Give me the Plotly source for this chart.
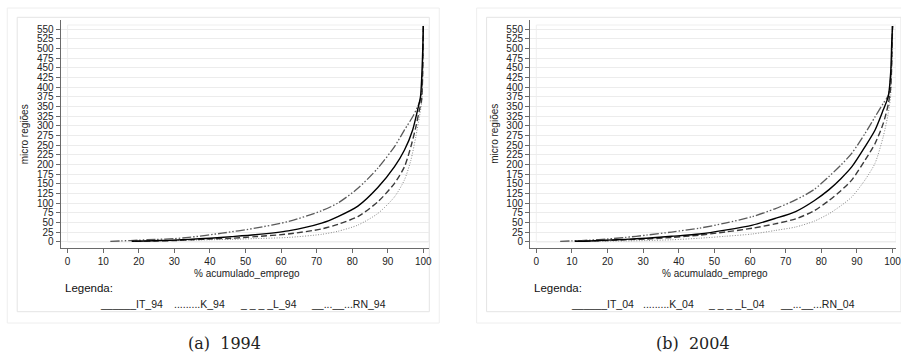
import plotly.graph_objects as go

W, H = 901, 360

# ---------------- data ----------------
# 1994
it94_x = [18, 22, 26, 30, 34, 40, 46, 52.7, 62, 71.4, 76, 81.6, 87.2, 91.9, 94.7, 97.0, 98.4, 99.2, 99.7, 100]
it94_y = [1, 2, 3, 4, 6, 9, 13, 18, 28, 48, 65, 92, 140, 194, 237, 289, 341, 375, 460, 558]
k94_x = [20, 25, 30, 35, 40, 46, 52.7, 62, 71.4, 76, 81.6, 87.2, 91.9, 94.7, 96.5, 97.9, 98.9, 99.5, 99.8, 100]
k94_y = [1, 2, 3, 4, 5, 6, 8, 11, 19, 27, 43, 73, 116, 160, 211, 272, 323, 358, 420, 558]
l94_x = [19, 25, 30, 35, 40, 46, 52.7, 62, 71.4, 76, 81.6, 87.2, 91.9, 94.7, 96.5, 97.9, 98.9, 99.5, 99.8, 100]
l94_y = [1, 2, 3, 5, 7, 9, 13, 20, 33, 45, 65, 103, 151, 194, 246, 297, 341, 366, 430, 558]
rn94_x = [12, 15, 20, 25, 30, 34, 43.4, 52.7, 62, 71.4, 76, 81.6, 87.2, 91.9, 94.7, 97.0, 98.4, 99.3, 99.8, 100]
rn94_y = [1, 2, 4, 6, 8, 11, 22, 35, 52, 80, 100, 138, 190, 246, 289, 323, 349, 371, 450, 558]

# 2004
it04_x = [10.8, 15, 20, 25, 30.9, 38, 45.8, 53, 60.7, 67, 72.8, 78, 82.1, 85.5, 88.6, 92.3, 95.1, 97.4, 98.8, 99.5, 99.8, 100]
it04_y = [1, 2, 4, 6, 9, 14, 20, 30, 43, 60, 78, 106, 134, 163, 194, 246, 289, 341, 375, 440, 520, 558]
k04_x = [12, 18, 25, 30.9, 38, 45.8, 53, 60.7, 67, 72.8, 78, 82.1, 85.5, 88.6, 92.3, 95.1, 97.4, 98.8, 99.5, 100]
k04_y = [1, 1.5, 2, 3, 5, 9, 14, 20, 29, 38, 53, 72, 93, 116, 160, 203, 272, 332, 380, 558]
l04_x = [11, 15, 20, 25, 30.9, 38, 45.8, 53, 60.7, 67, 72.8, 78, 82.1, 85.5, 88.6, 92.3, 95.1, 97.4, 98.8, 99.5, 100]
l04_y = [1, 2, 3, 5, 7, 11, 17, 25, 35, 46, 59, 80, 106, 132, 160, 211, 254, 306, 355, 400, 558]
rn04_x = [6.7, 10, 15, 20, 25, 30.9, 38, 45.8, 53, 60.7, 67, 72.8, 78, 82.1, 85.5, 88.6, 92.3, 95.1, 97.4, 98.8, 99.6, 100]
rn04_y = [1, 2, 4, 7, 11, 17, 25, 35, 48, 65, 85, 108, 135, 168, 198, 229, 280, 323, 358, 378, 440, 558]

y_ticks = list(range(0, 551, 25))
x_ticks = list(range(0, 101, 10))
x_title = "% acumulado_emprego"
y_title = "micro regiões"
legend_94 = ["______IT_94", ".........K_94", "_ _ _ _L_94", "__...__...RN_94"]
legend_04 = ["______IT_04", ".........K_04", "_ _ _ _L_04", "__...__...RN_04"]
captions = ["(a)  1994", "(b)  2004"]

# ---------------- helpers ----------------
def px(x):
    return x / W

def py(y):
    return 1 - y / H

FONT = "Liberation Sans, Arial, sans-serif"

styles = {
    "IT": dict(color="#000000", width=1.4, dash="solid", shape="spline", smoothing=0.7),
    "K": dict(color="#8a8a8a", width=1.0, dash="1px,1.6px", shape="spline", smoothing=0.7),
    "L": dict(color="#3a3a3a", width=1.4, dash="6px,3px", shape="spline", smoothing=0.7),
    "RN": dict(color="#5a5a5a", width=1.3, dash="9px,2px,1.5px,2px,1.5px,2px", shape="spline", smoothing=0.7),
}

fig = go.Figure()

panels = [
    dict(xa="x", ya="y", series=[("IT", it94_x, it94_y), ("K", k94_x, k94_y), ("L", l94_x, l94_y), ("RN", rn94_x, rn94_y)]),
    dict(xa="x2", ya="y2", series=[("IT", it04_x, it04_y), ("K", k04_x, k04_y), ("L", l04_x, l04_y), ("RN", rn04_x, rn04_y)]),
]
for p in panels:
    order = ["K", "RN", "L", "IT"]
    d = {s[0]: s for s in p["series"]}
    for key in order:
        name, xs, ys = d[key]
        fig.add_trace(go.Scatter(x=xs, y=ys, mode="lines", line=styles[name],
                                 xaxis=p["xa"], yaxis=p["ya"], showlegend=False,
                                 hoverinfo="skip"))

# panel geometry (pixels)
left = dict(ax0=61, ax1=431, x0val=68, xscale=3.577)
right = dict(ax0=533, ax1=901, x0val=539.3, xscale=3.582)
y_top, y_bot = 20, 248
y0pix, yscale = 241.7, 0.3867
yr = [-(y_bot - y0pix) / yscale, (y0pix - y_top) / yscale]

def xr(g):
    return [-(g["x0val"] - g["ax0"]) / g["xscale"], (g["ax1"] - g["x0val"]) / g["xscale"]]

axis_common = dict(
    showline=True, linecolor="#6a6a6a", linewidth=1, ticks="outside", ticklen=4,
    tickcolor="#6a6a6a", tickwidth=1, zeroline=False, ticklabeloverflow="allow",
    tickfont=dict(family=FONT, size=10, color="#222"),
)

fig.update_layout(
    width=W, height=H, margin=dict(l=0, r=0, t=0, b=0),
    paper_bgcolor="white", plot_bgcolor="white",
    xaxis=dict(domain=[px(left["ax0"]), px(left["ax1"])], range=xr(left), tickvals=x_ticks,
               showgrid=False, anchor="y", **axis_common),
    yaxis=dict(domain=[py(y_bot), py(y_top)], range=yr, tickvals=y_ticks, showgrid=True,
               gridcolor="#ececec", gridwidth=1, anchor="x", **axis_common),
    xaxis2=dict(domain=[px(right["ax0"]), px(right["ax1"])], range=xr(right), tickvals=x_ticks,
                showgrid=False, anchor="y2", **axis_common),
    yaxis2=dict(domain=[py(y_bot), py(y_top)], range=yr, tickvals=y_ticks, showgrid=True,
                gridcolor="#ececec", gridwidth=1, anchor="x2", **axis_common),
)

shapes = []
for (ox0, ox1, ix0, ix1) in [(7.3, 441.7, 17.3, 431.7), (479.3, 910, 489.3, 906)]:
    shapes.append(dict(type="rect", xref="paper", yref="paper", x0=px(ox0), x1=px(ox1),
                       y0=py(323), y1=py(8), line=dict(color="#eeeeee", width=1), layer="below"))
    shapes.append(dict(type="rect", xref="paper", yref="paper", x0=px(ix0), x1=px(ix1),
                       y0=py(311.7), y1=py(17.3), line=dict(color="#e4e4e4", width=1), layer="below"))
for xa, ya, g in [("x", "y", left), ("x2", "y2", right)]:
    shapes.append(dict(type="rect", xref=xa, yref=ya, x0=0, x1=xr(g)[1], y0=-1,
                       y1=(y0pix - 25) / yscale, line=dict(color="#efefef", width=1), layer="below"))
fig.update_layout(shapes=shapes)

ann = []
for g, leg, cap, capx, legx in [
    (left, legend_94, captions[0], 226, [(100, 165), (172, 230), (237, 302), (307, 393)]),
    (right, legend_04, captions[1], 697, [(572.7, 638.3), (643, 702), (708, 773), (779, 865)]),
]:
    ann.append(dict(text=y_title, x=px(g["ax0"] - 36.5), y=py((y_top + y_bot) / 2), xref="paper", yref="paper",
                    textangle=-90, showarrow=False, xanchor="center", yanchor="middle",
                    font=dict(family=FONT, size=10, color="#222")))
    ann.append(dict(text=x_title, x=px((g["ax0"] + min(g["ax1"], 903)) / 2 + 2), y=py(273), xref="paper", yref="paper",
                    showarrow=False, xanchor="center", yanchor="middle",
                    font=dict(family=FONT, size=10, color="#222")))
    ann.append(dict(text="Legenda:", x=px(g["ax0"] + 2), y=py(287.5), xref="paper", yref="paper",
                    showarrow=False, xanchor="left", yanchor="middle",
                    font=dict(family=FONT, size=11.5, color="#111")))
    for txt, (a, b) in zip(leg, legx):
        ann.append(dict(text=txt, x=px((a + b) / 2), y=py(303.5), xref="paper", yref="paper",
                        showarrow=False, xanchor="center", yanchor="middle",
                        font=dict(family=FONT, size=10.5, color="#222")))
    ann.append(dict(text=cap, x=px(capx), y=py(343), xref="paper", yref="paper",
                    showarrow=False, xanchor="center", yanchor="middle",
                    font=dict(family="DejaVu Serif, Liberation Serif, serif", size=16, color="#222")))
fig.update_layout(annotations=ann)

fig.write_html("out.html", config={"displayModeBar": False},
               post_script="document.body.style.margin='0';document.body.style.padding='0';")
